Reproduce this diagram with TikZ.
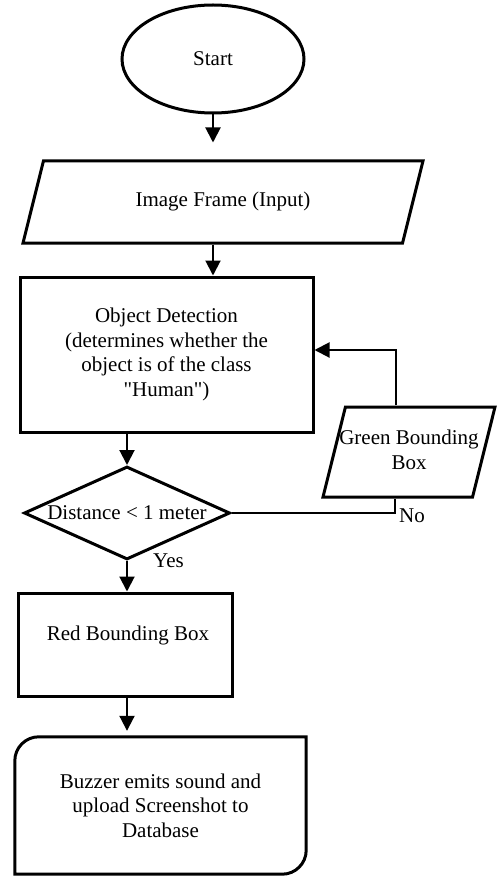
\documentclass[tikz,border=0pt]{standalone}
\usepackage{fontspec}
\setmainfont{Liberation Serif}
\usetikzlibrary{shapes.geometric,arrows.meta}
\begin{document}
\begin{tikzpicture}[x=1pt,y=-1pt,
        font=\fontsize{21}{24.5}\selectfont,
        box/.style={draw,line width=3pt,inner sep=0pt},
        io/.style={box,trapezium,trapezium left angle=76,trapezium right angle=104,trapezium stretches body},
        flow/.style={-{Triangle[width=15pt,length=15pt]},line width=2pt},
        line/.style={line width=2pt}]
        \useasboundingbox (0,0) rectangle (496,877);
        \node[box,ellipse,minimum width=182pt,minimum height=108pt] (start) at (213,59) {Start};
        \node[io,minimum width=400pt,text height=15pt,text depth=5pt,inner ysep=31pt] (input) at (223,202)
            {Image Frame (Input)};
        \node[box,minimum width=293pt,minimum height=155pt,align=center] (detect) at (166.5,354.5)
            {Object Detection\\(determines whether the\\object is of the class\\\textquotedbl Human\textquotedbl)};
        \node[box,diamond,minimum width=206pt,minimum height=93pt] (dist) at (127,513)
            {\makebox[0pt]{Distance < 1 meter}};
        \node[io,minimum width=172pt,text height=30.25pt,text depth=19.75pt,inner ysep=20pt] (green) at (409,452)
            {\makebox[0pt]{\begin{tabular}{@{}c@{}}Green Bounding\\Box\end{tabular}}};
        \node[box,minimum width=214pt,minimum height=103pt,text height=15pt,text depth=24pt] (red) at (125,644.5)
            {\hspace*{6pt}Red Bounding Box};
        \node[minimum width=291pt,minimum height=137pt,inner sep=0pt,align=center] (buzz) at (160.5,805.5)
            {Buzzer emits sound and\\upload Screenshot to\\Database};
        \draw[line width=3pt] ([yshift=-24pt]buzz.north west) arc[start angle=180,end angle=90,radius=24pt]
            -- (buzz.north east) -- ([yshift=24pt]buzz.south east) arc[start angle=0,end angle=-90,radius=24pt]
            -- (buzz.south west) -- cycle;
        \coordinate (noturn) at (395,513);
        \coordinate (loopturn) at (396,350);
        \draw[flow,shorten >=17pt] (start.south) -- (start.south |- input.north);
        \draw[flow] (start.south |- input.south) -- (start.south |- detect.north);
        \draw[flow] (dist.north |- detect.south) -- (dist.north);
        \draw[flow] (dist.south) -- (dist.south |- red.north);
        \draw[flow,shorten >=6pt] (dist.south |- red.south) -- (dist.south |- buzz.north);
        \draw[line] (dist.east) -- (noturn) -- (noturn |- green.south);
        \draw[flow] (loopturn |- green.north) -- (loopturn) -- (loopturn -| detect.east);
        \node[anchor=west,inner sep=0pt] (yes) at ([xshift=26pt]dist.south) {Yes};
        \node[anchor=west,inner sep=0pt] (no) at ([xshift=4pt,yshift=-3pt]noturn) {No};
\end{tikzpicture}
\end{document}
